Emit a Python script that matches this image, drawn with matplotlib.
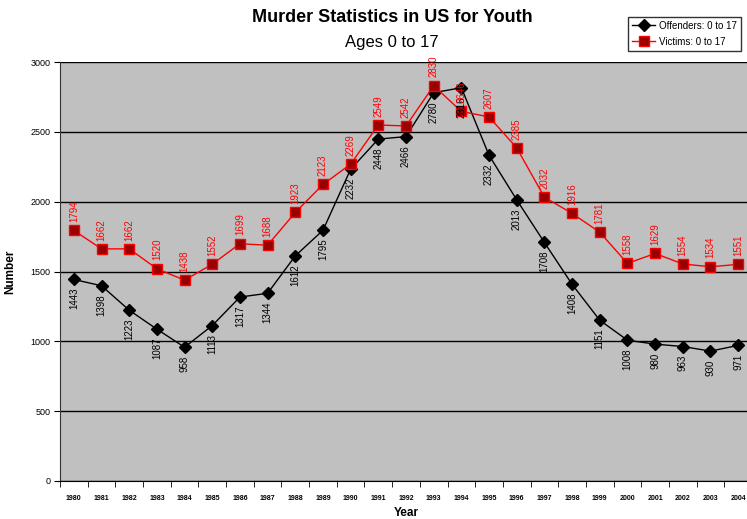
import matplotlib.pyplot as plt
import numpy as np

plt.rcParams['font.family'] = ['Liberation Sans', 'DejaVu Sans']

years = [str(y) for y in range(1980, 2005)]
offenders = [1443, 1398, 1223, 1087, 958, 1113, 1317, 1344, 1612, 1795, 2232, 2448, 2466,
             2780, 2816, 2332, 2013, 1708, 1408, 1151, 1008, 980, 963, 930, 971]
victims = [1794, 1662, 1662, 1520, 1438, 1552, 1699, 1688, 1923, 2123, 2269, 2549, 2542,
           2830, 2646, 2607, 2385, 2032, 1916, 1781, 1558, 1629, 1554, 1534, 1551]

fig = plt.figure(figsize=(7.47, 5.19), dpi=100)
# plot area runs a little past the right edge, as in the original
ax = fig.add_axes([60/747, 38/519, 692/747, 419/519])
ax.set_facecolor('#C0C0C0')

x = np.arange(len(years))
ax.plot(x, offenders, color='black', lw=1, marker='D', ms=6, mfc='black', mec='black',
        label='Offenders: 0 to 17', zorder=3)
ax.plot(x, victims, color='red', lw=1, marker='s', ms=7, mfc='#990000', mec='red',
        label='Victims: 0 to 17', zorder=3)

for i in range(len(years)):
    ax.annotate(str(offenders[i]), (x[i], offenders[i]), xytext=(0, -6),
                textcoords='offset points', rotation=90, ha='center', va='top',
                fontsize=7, color='black', zorder=4)
    ax.annotate(str(victims[i]), (x[i], victims[i]), xytext=(0, 6),
                textcoords='offset points', rotation=90, ha='center', va='bottom',
                fontsize=7, color='red', zorder=4, annotation_clip=False)

ax.set_xlim(-0.5, len(years) - 0.5)
ax.set_ylim(0, 3000)
ax.set_yticks(range(0, 3001, 500))
ax.yaxis.grid(True, color='black', lw=1)
ax.set_axisbelow(True)

ax.set_xticks(x)
ax.set_xticklabels(years, fontsize=5, fontweight='bold')
ax.set_xticks(np.arange(-0.5, len(years), 1), minor=True)
ax.tick_params(axis='x', which='major', length=0, pad=10)
ax.tick_params(axis='x', which='minor', length=4, direction='out')
ax.tick_params(axis='y', labelsize=6.5, length=4, direction='out', pad=3)

for s in ['top', 'right']:
    ax.spines[s].set_visible(False)
ax.spines['left'].set_color('#333333')
ax.spines['bottom'].set_color('black')

ax.set_xlabel('Year', fontsize=8.5, fontweight='bold', labelpad=4)
ax.set_ylabel('Number', fontsize=8.5, fontweight='bold', labelpad=10)

fig.text(392/747, 1 - 18/519, 'Murder Statistics in US for Youth', ha='center', va='center',
         fontsize=13, fontweight='bold')
fig.text(392/747, 1 - 42/519, 'Ages 0 to 17', ha='center', va='center', fontsize=12)

leg = fig.legend(loc='upper left', bbox_to_anchor=(628/747, 1 - 17/519), fontsize=7,
                 frameon=True, fancybox=False, edgecolor='black', borderpad=0.4,
                 handlelength=2.4, handletextpad=0.4, labelspacing=0.6, borderaxespad=0)
leg.get_frame().set_linewidth(1)

fig.savefig('out.png', dpi=100)
